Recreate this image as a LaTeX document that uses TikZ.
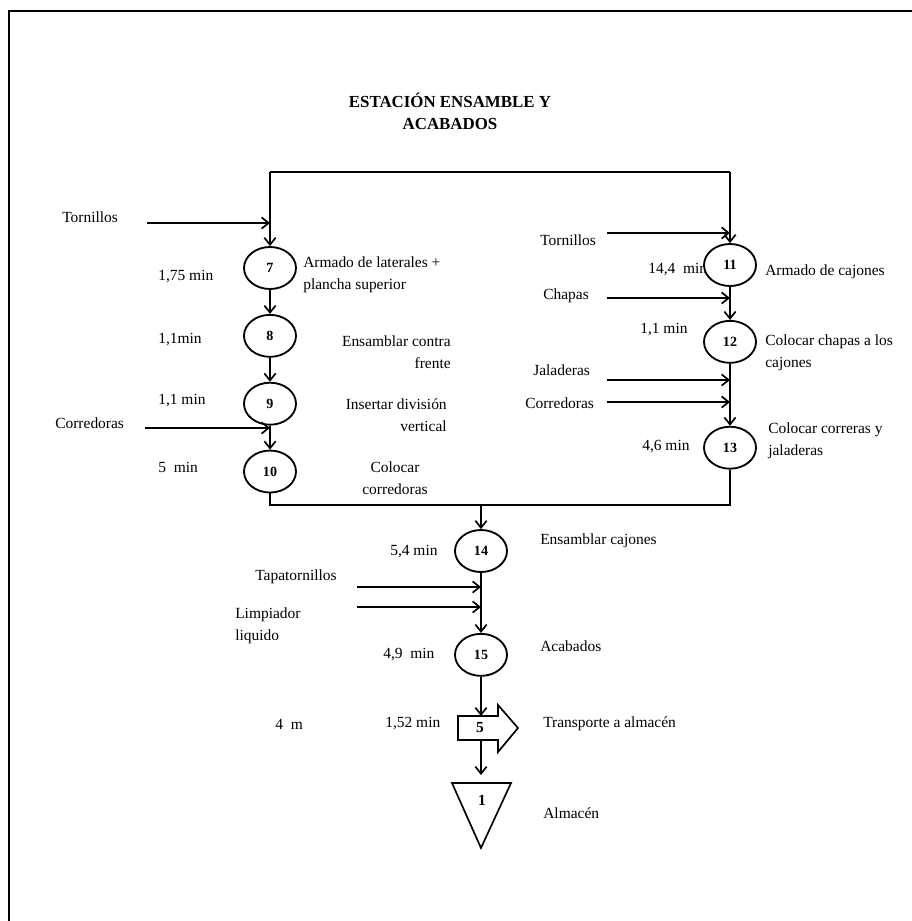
\documentclass[tikz,border=0pt]{standalone}
\usepackage{fontspec}
\setmainfont{Liberation Serif}
\usetikzlibrary{shapes.geometric,arrows.meta,positioning}
\tikzset{
  oper/.style={
    ellipse, draw, line width=1.3pt, fill=white,
    minimum width=1.3cm, minimum height=1.05cm,
    inner sep=0pt, font=\bfseries\fontsize{10}{11}\selectfont},
  flow/.style={-{Straight Barb[length=5pt,width=8pt]}, line width=1.2pt},
  link/.style={line width=1.2pt},
  lbl/.style={inner sep=0pt, anchor=west, font=\fontsize{11}{16}\selectfont},
  frame/.style={line width=1.6pt},
}
\begin{document}
\begin{tikzpicture}[x=0.025cm, y=-0.025cm]
  \useasboundingbox (0,0) rectangle (912,921);
  \draw[frame] (912,11) -- (9,11) -- (9,921);
  \node[font=\bfseries\fontsize{12}{15.5}\selectfont, align=center] (title) at (450,111) {ESTACIÓN ENSAMBLE Y\\ACABADOS};

  % tiempos
  \node[lbl] (t7) at (158,277) {1,75 min};
  \node[lbl] (t8) at (158,340) {1,1min};
  \node[lbl] (t9) at (158,401) {1,1 min};
  \node[lbl] (t10) at (158,467) {5\ \ min};
  \node[lbl] (t11) at (648,270) {14,4\ \ min};
  \node[lbl] (t12) at (640,330) {1,1 min};
  \node[lbl] (t13) at (642,447) {4,6 min};
  \node[lbl] (t14) at (390,552) {5,4 min};
  \node[lbl] (t15) at (383,655) {4,9\ \ min};
  \node[lbl] (t5) at (385,724) {1,52 min};
  \node[lbl] (dist) at (275,724) {4\ \ m};

  % operaciones
  \node[oper] (o7) at (270,268) {7};
  \node[oper, below=0.6cm of o7] (o8) {8};
  \node[oper, below=0.6cm of o8] (o9) {9};
  \node[oper, below=0.6cm of o9] (o10) {10};
  \node[oper] (o11) at (730,265) {11};
  \node[oper, below=0.825cm of o11] (o12) {12};
  \node[oper, below=1.55cm of o12] (o13) {13};
  \node[oper] (o14) at (481,551) {14};
  \node[oper, below=1.5cm of o14] (o15) {15};

  % descripciones
  \node[lbl, align=left] (d7) at (303,275) {Armado de laterales +\\plancha superior};
  \node[lbl, anchor=east, align=right] (d8) at (451,352) {Ensamblar contra\\frente};
  \node[lbl, anchor=east, align=right] (d9) at (447,415) {Insertar división\\vertical};
  \node[lbl, anchor=center, align=center] (d10) at (395,478) {Colocar\\corredoras};
  \node[lbl] (d11) at (765,272) {Armado de cajones};
  \node[lbl, align=left] (d12) at (765,353) {Colocar chapas a los\\cajones};
  \node[lbl, align=left] (d13) at (768,441) {Colocar correras y\\jaladeras};
  \node[lbl] (d14) at (540,541) {Ensamblar cajones};
  \node[lbl] (d15) at (540,646) {Acabados};
  \node[lbl] (d5) at (543,724) {Transporte a almacén};
  \node[lbl] (d1) at (543,813) {Almacén};

  % materiales
  \node[lbl] (in7) at (62,217) {Tornillos};
  \node[lbl] (in10) at (55,423) {Corredoras};
  \node[lbl] (in11) at (540,240) {Tornillos};
  \node[lbl] (in12) at (543,296) {Chapas};
  \node[lbl] (in13a) at (533,370) {Jaladeras};
  \node[lbl] (in13b) at (525,403) {Corredoras};
  \node[lbl] (in15a) at (255,577) {Tapatornillos};
  \node[lbl, align=left] (in15b) at (235,626) {Limpiador\\liquido};

  \coordinate (a7) at (147,223);
  \coordinate (a10) at (145,428);
  \coordinate (a11) at (607,233);
  \coordinate (a12) at (607,298);
  \coordinate (a13a) at (607,380);
  \coordinate (a13b) at (607,402);
  \coordinate (a15a) at (357,587);
  \coordinate (a15b) at (357,607);
  \draw[flow] (a7) -- (a7 -| o7);
  \draw[flow] (a10) -- (a10 -| o10);
  \draw[flow] (a11) -- (a11 -| o11);
  \draw[flow] (a12) -- (a12 -| o12);
  \draw[flow] (a13a) -- (a13a -| o13);
  \draw[flow] (a13b) -- (a13b -| o13);
  \draw[flow] (a15a) -- (a15a -| o15);
  \draw[flow] (a15b) -- (a15b -| o15);

  % flujo
  \coordinate (topL) at (270,172);
  \coordinate (topR) at (730,172);
  \draw[link] (topL) -- (topR);
  \draw[flow] (topL) -- (o7);
  \draw[flow] (topR) -- (o11);
  \draw[flow] (o7) -- (o8);
  \draw[flow] (o8) -- (o9);
  \draw[flow] (o9) -- (o10);
  \draw[flow] (o11) -- (o12);
  \draw[flow] (o12) -- (o13);
  \coordinate (mid) at (481,505);
  \draw[link] (o10) -- (o10 |- mid) -- (o13 |- mid) -- (o13);
  \draw[flow] (mid) -- (o14);
  \draw[flow] (o14) -- (o15);

  % transporte y almacen
  \draw[link] (458,716) -- (498,716) -- (498,705) -- (518,728) -- (498,752) -- (498,740) -- (458,740) -- cycle;
  \node[inner sep=0pt, font=\bfseries\fontsize{11}{12}\selectfont] (trn) at (480,728) {5};
  \coordinate (trntop) at (481,716);
  \coordinate (trnbot) at (481,740);
  \draw[flow] (o15) -- (trntop);
  \draw[link] (452,783) -- (511,783) -- (481,848) -- cycle;
  \node[inner sep=0pt, font=\bfseries\fontsize{11}{12}\selectfont] (alm) at (482,800) {1};
  \coordinate (almtop) at (481,783);
  \draw[flow, shorten >=0.2cm] (trnbot) -- (almtop);
\end{tikzpicture}
\end{document}
